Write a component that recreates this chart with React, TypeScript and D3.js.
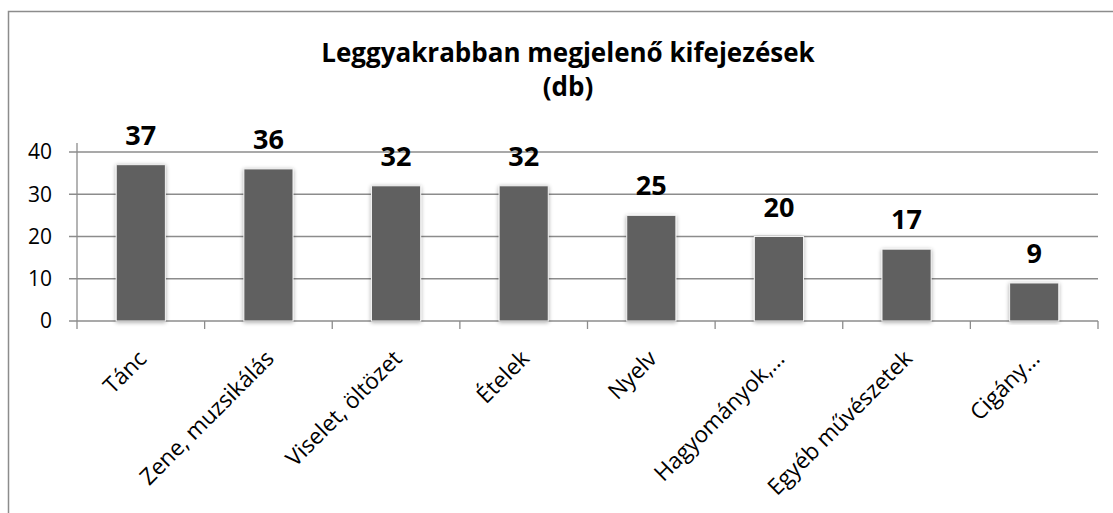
import React from "react";
import * as d3 from "d3";

const categories = ["Tánc", "Zene, muzsikálás", "Viselet, öltözet", "Ételek", "Nyelv", "Hagyományok,…", "Egyéb művészetek", "Cigány…"];
const values = [37, 36, 32, 32, 25, 20, 17, 9];
const yTicks = [0, 10, 20, 30, 40];
const titleLines = ["Leggyakrabban megjelenő kifejezések", "(db)"];

const W = 1113;
const H = 513;
const FONT = "'Open Sans', 'Noto Sans', sans-serif";

export default function App() {
  const x = d3.scaleBand<string>().domain(categories).range([77, 1098]).padding(0);
  const y = d3.scaleLinear().domain([0, 40]).range([321, 152]);
  const bw = x.bandwidth() * 0.385;
  const grid = "#8c8c8c";
  return (
    <svg width={W} height={H} style={{ position: "absolute", left: 0, top: 0 }} fontFamily={FONT}>
      <defs>
        <filter id="sh" x="-30%" y="-10%" width="160%" height="120%">
          <feGaussianBlur in="SourceAlpha" stdDeviation="2" />
          <feOffset dx="0" dy="1" result="b" />
          <feComponentTransfer><feFuncA type="linear" slope="0.35" /></feComponentTransfer>
          <feMerge><feMergeNode /><feMergeNode in="SourceGraphic" /></feMerge>
        </filter>
      </defs>
      <rect x={0} y={0} width={W} height={H} fill="#fff" />
      <rect x={8.5} y={11.5} width={W + 20} height={H + 20} fill="none" stroke={grid} strokeWidth={1.5} />
      {titleLines.map((t, i) => (
        <text key={t} x={568} y={62 + i * 34} textAnchor="middle" fontWeight="bold" fontSize={26} fill="#000">{t}</text>
      ))}
      {yTicks.map((t) => (
        <g key={t}>
          <line x1={69} x2={1098} y1={y(t)} y2={y(t)} stroke={grid} strokeWidth={1.3} />
          <text x={52} y={y(t)} dy="0.35em" textAnchor="end" fontSize={21} fill="#000">{t}</text>
        </g>
      ))}
      <line x1={77} x2={77} y1={143} y2={329} stroke={grid} strokeWidth={1.3} />
      {categories.map((c, i) => (
        <line key={"t" + i} x1={x(c)! + x.bandwidth()} x2={x(c)! + x.bandwidth()} y1={321} y2={329} stroke={grid} strokeWidth={1.3} />
      ))}
      {categories.map((c, i) => {
        const cx = x(c)! + x.bandwidth() / 2;
        return (
          <g key={c}>
            <rect x={cx - bw / 2} y={y(values[i])} width={bw} height={y(0) - y(values[i])} fill="#606060" stroke="#f2f2f2" strokeWidth={1} filter="url(#sh)" />
            <text x={cx} y={y(values[i]) - 20} textAnchor="middle" fontWeight="bold" fontSize={27} fill="#000">{values[i]}</text>
            <text transform={`translate(${cx + 7},${360}) rotate(-45)`} textAnchor="end" fontSize={22.5} fill="#000">{c}</text>
          </g>
        );
      })}
    </svg>
  );
}
